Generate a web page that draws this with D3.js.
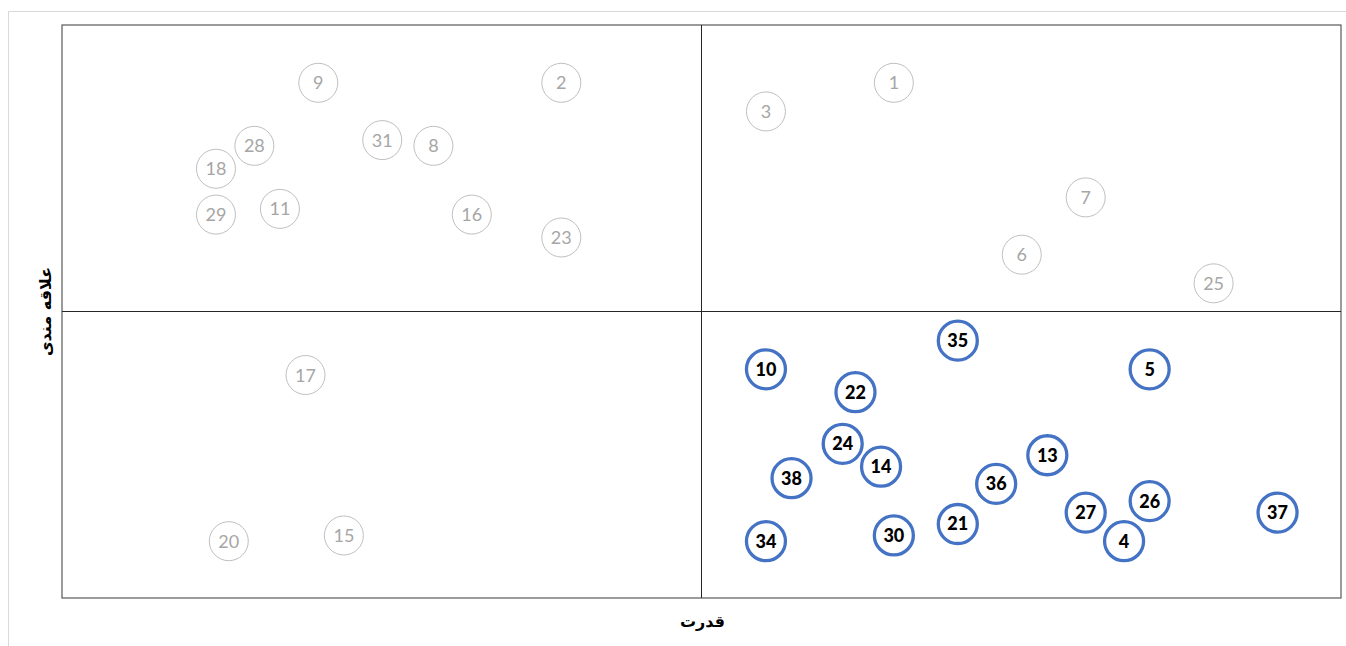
<!DOCTYPE html>
<meta charset="utf-8">
<style>
body { margin: 0; background: #fff; font-family: Lato, "Open Sans", sans-serif; }
.frame { fill: none; stroke: #595959; stroke-width: 1.2; }
.mid { stroke: #262626; stroke-width: 1; }
.pt-gray circle { fill: #fff; stroke: #bfbfbf; stroke-width: 1; }
.pt-gray text { fill: #a6a6a6; font-size: 18px; }
.pt-blue circle { fill: #fff; stroke: #4472c4; stroke-width: 3.3; }
.pt-blue text { fill: #000; font-size: 18px; font-weight: 900; }
.axis-title { font-family: "DejaVu Sans", sans-serif; font-weight: bold; font-size: 16px; fill: #000; }
</style>
<body>
<script src="https://cdn.jsdelivr.net/npm/d3@7"></script>
<script>
// stakeholder ids, power (x) and interest (y), 0-10
var ids   = [1, 2, 3, 4, 5, 6, 7, 8, 9, 10, 11, 13, 14, 15, 16, 17, 18, 20, 21, 22, 23, 24, 25, 26, 27, 28, 29, 30, 31, 34, 35, 36, 37, 38];
var power = [6.5, 3.9, 5.5, 8.3, 8.5, 7.5, 8.0, 2.9, 2.0, 5.5, 1.7, 7.7, 6.4, 2.2, 3.2, 1.9, 1.2, 1.3, 7.0, 6.2, 3.9, 6.1, 9.0, 8.5, 8.0, 1.5, 1.2, 6.5, 2.5, 5.5, 7.0, 7.3, 9.5, 5.7];
var interest = [9.0, 9.0, 8.5, 1.0, 4.0, 6.0, 7.0, 7.9, 9.0, 4.0, 6.8, 2.5, 2.3, 1.1, 6.7, 3.9, 7.5, 1.0, 1.3, 3.6, 6.3, 2.7, 5.5, 1.7, 1.5, 7.9, 6.7, 1.1, 8.0, 1.0, 4.5, 2.0, 1.5, 2.1];
var xTitle = "قدرت";
var yTitle = "علاقه مندی";

var W = 1346, H = 646;
var margin = {top: 25, right: 5, bottom: 48, left: 62},
    width = 1341 - margin.left,
    height = 598 - margin.top;

var svg = d3.select("body").append("svg")
    .attr("width", W)
    .attr("height", H);

// outer light border
svg.append("path")
    .attr("d", "M8.5," + H + "V11.5H" + W)
    .attr("fill", "none")
    .attr("stroke", "#d9d9d9");

var g = svg.append("g")
    .attr("transform", "translate(" + margin.left + "," + margin.top + ")");

var x = d3.scaleLinear().domain([0, 10]).range([0, width]);
var y = d3.scaleLinear().domain([0, 10]).range([height, 0]);

g.append("rect")
    .attr("class", "frame")
    .attr("width", width)
    .attr("height", height);

g.append("line").attr("class", "mid")
    .attr("x1", x(5)).attr("x2", x(5))
    .attr("y1", 0).attr("y2", height);
g.append("line").attr("class", "mid")
    .attr("x1", 0).attr("x2", width)
    .attr("y1", y(5)).attr("y2", y(5));

var data = ids.map(function(id, i) {
  return {id: id, x: power[i], y: interest[i]};
});

var pts = g.selectAll(".pt")
    .data(data)
  .enter().append("g")
    .attr("class", function(d) { return (d.x > 5 && d.y < 5) ? "pt pt-blue" : "pt pt-gray"; })
    .attr("transform", function(d) { return "translate(" + (x(d.x) + 0.5) + "," + (y(d.y) + 0.5) + ")"; });

pts.append("circle").attr("r", 19.5);
pts.append("text")
    .attr("text-anchor", "middle")
    .attr("dy", "0.36em")
    .text(function(d) { return d.id; });

svg.append("text")
    .attr("class", "axis-title")
    .attr("x", margin.left + x(5) + 1)
    .attr("y", 627)
    .attr("text-anchor", "middle")
    .text(xTitle);

svg.append("text")
    .attr("class", "axis-title")
    .attr("transform", "translate(51," + (margin.top + y(5)) + ") rotate(-90)")
    .attr("text-anchor", "middle")
    .text(yTitle);
</script>
</body>
